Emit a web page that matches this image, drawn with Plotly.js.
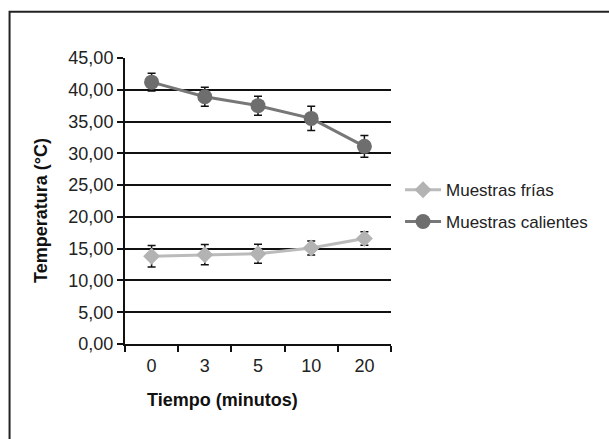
<!DOCTYPE html>
<html>
<head>
<meta charset="utf-8">
<script src="https://cdn.plot.ly/plotly-3.0.1.min.js"></script>
<style>html,body{margin:0;padding:0;background:#fff;}#chart{width:609px;height:439px;}</style>
</head>
<body>
<div id="chart"></div>
<script>
const categories = ["0", "3", "5", "10", "20"];
const frias = [13.8, 14.05, 14.2, 15.1, 16.6];
const friasErr = [1.7, 1.6, 1.5, 1.1, 1.05];
const calientes = [41.2, 38.9, 37.5, 35.5, 31.1];
const calientesErr = [1.4, 1.5, 1.5, 1.9, 1.7];
const yTicks = [0, 5, 10, 15, 20, 25, 30, 35, 40, 45];

const traces = [
  {
    x: categories, y: frias, name: "Muestras frías", type: "scatter", mode: "lines+markers",
    legend: "legend",
    line: {color: "#bbbbbb", width: 3},
    marker: {symbol: "diamond", size: 13, color: "#b3b3b3", line: {color: "#b3b3b3", width: 0}},
    error_y: {type: "data", array: friasErr, visible: true, color: "#111", thickness: 1.5, width: 4}
  },
  {
    x: categories, y: calientes, name: "Muestras calientes", type: "scatter", mode: "lines+markers",
    legend: "legend2",
    line: {color: "#777", width: 3},
    marker: {symbol: "circle", size: 15, color: "#6e6e6e", line: {color: "#6e6e6e", width: 0}},
    error_y: {type: "data", array: calientesErr, visible: true, color: "#111", thickness: 1.5, width: 4}
  }
];

const layout = {
  width: 609, height: 439,
  margin: {l: 125, r: 218, t: 58, b: 95},
  paper_bgcolor: "#fff", plot_bgcolor: "#fff",
  separators: ",.",
  font: {family: "Liberation Sans, Arial, sans-serif", color: "#222", size: 17},
  showlegend: true,
  legend: {x: 1.034, y: 0.538, xanchor: "left", yanchor: "middle", itemwidth: 36, font: {size: 17, color: "#222"}, bgcolor: "rgba(0,0,0,0)", borderwidth: 0},
  legend2: {x: 1.034, y: 0.4266, xanchor: "left", yanchor: "middle", itemwidth: 36, font: {size: 17, color: "#222"}, bgcolor: "rgba(0,0,0,0)", borderwidth: 0},
  xaxis: {
    type: "category", range: [-0.5, 4.5], showgrid: false, zeroline: false,
    showline: true, linecolor: "#111", linewidth: 2,
    ticks: "outside", tickson: "boundaries", ticklen: 6, tickwidth: 2, tickcolor: "#111",
    tickfont: {size: 18, color: "#222"}, ticklabelstandoff: 4
  },
  yaxis: {
    range: [0, 45], tickvals: yTicks, tickformat: ".2f",
    showgrid: true, gridcolor: "#111", gridwidth: 2, zeroline: false,
    showline: true, linecolor: "#111", linewidth: 2,
    ticks: "outside", ticklen: 6, tickwidth: 2, tickcolor: "#111",
    tickfont: {size: 18, color: "#222"}
  },
  annotations: [
    {text: "<b>Tiempo (minutos)</b>", xref: "paper", yref: "paper", x: 0.3647, y: -0.196,
     xanchor: "center", yanchor: "middle", showarrow: false, font: {size: 18, color: "#111"}},
    {text: "<b>Temperatura (°C)</b>", xref: "paper", yref: "paper", x: -0.316, y: 0.4685,
     xanchor: "center", yanchor: "middle", showarrow: false, textangle: -90, font: {size: 18, color: "#111"}}
  ],
  shapes: [
    {type: "rect", xref: "paper", yref: "paper", x0: -0.434, x1: 2, y0: -0.5, y1: 1.162,
     line: {color: "#222", width: 2}, fillcolor: "rgba(0,0,0,0)", layer: "below"}
  ]
};

Plotly.newPlot("chart", traces, layout, {displayModeBar: false, staticPlot: true});
</script>
</body>
</html>
